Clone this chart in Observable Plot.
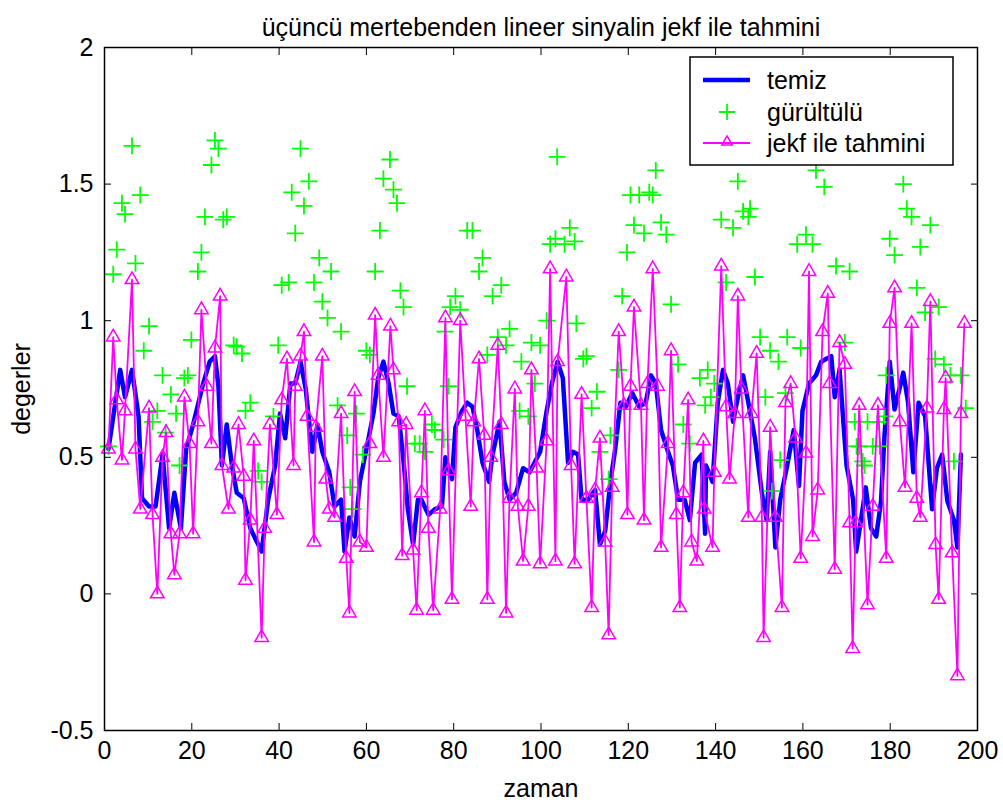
<!DOCTYPE html>
<html>
<head>
<meta charset="utf-8">
<script src="https://cdn.jsdelivr.net/npm/d3@7"></script>
<script src="https://cdn.jsdelivr.net/npm/@observablehq/plot@0.6"></script>
<style>
  html, body { margin: 0; padding: 0; background: #ffffff; overflow: hidden; }
  #chart { position: relative; width: 1003px; height: 805px; }
</style>
</head>
<body>
<div id="chart"></div>
<script>
// ---- texts ----
const titleText = "üçüncü mertebenden lineer sinyalin jekf ile tahmini";
const xLabel = "zaman";
const yLabel = "degerler";
const seriesNames = ["temiz", "gürültülü", "jekf ile tahmini"];
const seriesColors = ["#0000ff", "#00ff00", "#ff00ff"];

// ---- axis ticks ----
const xTicks = [0, 20, 40, 60, 80, 100, 120, 140, 160, 180, 200];
const yTicks = [-0.5, 0, 0.5, 1, 1.5, 2];

// ---- temiz (clean signal) ----
const cleanT = [0.9,3.6,4.7,6.3,7.8,8.6,10.2,11.7,13.3,14.8,16.0,17.5,18.7,20.3,22.6,24.1,25.3,26.1,26.9,28.0,29.2,30.3,31.9,33.4,
  36.0,37.5,39.1,40.2,41.4,42.6,43.7,44.9,46.1,47.6,48.8,49.9,51.5,52.7,54.2,55.0,56.1,57.3,58.5,60.0,61.6,62.7,63.9,65.1,66.2,67.4,68.6,
  69.5,70.7,71.8,72.6,74.2,75.7,77.3,78.1,79.6,80.4,81.9,83.1,84.3,85.4,86.6,88.1,88.9,90.5,91.6,92.8,94.3,95.9,97.4,99.8,101.3,102.5,
  103.8,105.0,106.2,107.3,108.5,109.3,110.8,112.4,113.5,114.7,115.9,117.0,118.2,119.4,120.9,122.5,124.0,125.2,126.3,127.5,129.1,130.2,131.4,132.9,134.1,135.3,136.8,137.6,
  137.8,139.3,140.5,141.7,142.8,144.0,145.1,146.3,147.5,149.0,150.6,151.7,152.5,153.7,154.8,156.4,157.9,159.1,159.9,161.4,163.0,164.2,165.3,166.5,167.3,168.4,170.0,171.5,172.2,
  173.3,174.4,175.6,176.8,177.9,178.7,179.9,181.0,182.2,183.0,184.1,185.3,186.5,188.0,189.6,190.7,191.9,193.1,194.6,195.4,196.2];
const cleanV = [0.53,0.82,0.72,0.82,0.65,0.35,0.32,0.32,0.51,0.24,0.37,0.24,0.53,0.62,0.77,0.85,0.87,0.76,0.47,0.62,0.47,0.37,0.35,0.24,
  0.155,0.345,0.47,0.66,0.57,0.77,0.77,0.85,0.75,0.52,0.62,0.52,0.445,0.32,0.345,0.155,0.28,0.21,0.41,0.53,0.66,0.79,0.85,0.77,0.66,0.65,0.47,
  0.31,0.18,0.345,0.345,0.29,0.31,0.32,0.5,0.42,0.61,0.67,0.70,0.685,0.60,0.48,0.41,0.51,0.63,0.41,0.345,0.37,0.46,0.445,0.52,0.67,0.77,
  0.85,0.79,0.48,0.52,0.51,0.345,0.345,0.38,0.18,0.23,0.41,0.53,0.70,0.685,0.735,0.685,0.70,0.80,0.77,0.60,0.52,0.47,0.345,0.345,0.27,0.48,0.51,0.22,
  0.47,0.41,0.70,0.82,0.77,0.63,0.72,0.80,0.70,0.57,0.37,0.27,0.52,0.17,0.345,0.47,0.60,0.395,0.67,0.77,0.80,0.85,0.86,0.87,0.72,0.82,0.47,0.345,0.155,
  0.27,0.39,0.24,0.21,0.34,0.58,0.85,0.675,0.756,0.81,0.70,0.445,0.70,0.65,0.31,0.46,0.51,0.34,0.27,0.17,0.51];

const noisyT = [0.9,2.0,2.8,4.0,4.7,6.3,7.1,8.2,9.0,10.2,11.0,12.1,13.3,14.0,15.2,16.4,17.2,18.3,19.1,19.9,21.4,22.2,23.0,24.5,25.3,26.1,27.2,28.0,29.6,30.3,31.5,32.3,33.4,
  35.2,36.0,38.7,39.8,40.6,42.2,42.9,43.7,44.9,45.7,46.8,48.0,49.2,49.9,51.1,51.9,53.4,54.2,55.6,56.3,56.9,57.7,59.2,60.0,60.8,62.0,63.1,63.9,65.4,66.2,67.0,67.8,68.5,69.3,
  71.1,72.2,73.4,75.0,75.7,77.7,78.0,78.8,79.2,80.4,81.5,83.1,84.3,85.8,86.6,87.7,88.9,90.1,90.9,92.0,92.8,95.1,95.5,97.1,97.8,98.6,99.8,101.3,102.1,103.3,103.7,
  105.4,106.6,107.7,108.1,109.7,110.4,111.6,112.8,113.5,115.5,115.9,117.8,118.6,119.7,120.5,121.3,122.5,123.6,124.8,125.6,126.3,127.5,128.7,129.8,131.4,132.6,134.1,136.4,137.6,
  138.2,138.9,139.7,141.3,142.4,144.0,145.1,146.3,147.5,147.9,149.0,150.2,151.4,152.5,152.9,154.4,154.8,156.0,156.4,158.7,159.5,160.7,162.2,163.0,164.9,167.6,169.6,170.7,171.9,172.3,
  172.9,173.7,174.1,174.8,176.0,177.2,177.6,178.7,179.1,179.9,181.0,183.0,183.8,184.9,186.1,186.9,188.0,189.2,190.3,191.1,192.3,193.8,194.6,196.2,197.3];
const noisyV = [0.54,1.17,1.26,1.43,1.39,1.64,1.21,1.46,0.89,0.98,0.63,0.67,0.80,0.59,0.73,0.66,0.47,0.79,0.80,0.93,1.18,1.25,1.38,1.57,1.66,1.63,1.37,1.38,0.91,0.905,0.88,0.67,0.70,
  0.45,0.41,0.65,0.91,1.13,1.14,1.47,1.32,1.63,1.42,1.51,1.14,1.23,1.07,1.01,1.18,0.69,0.96,0.58,0.39,0.31,0.66,0.51,0.89,0.875,1.18,1.33,1.52,1.59,1.48,1.43,1.11,1.05,0.76,
  0.55,0.55,0.52,0.62,0.60,0.565,0.96,0.76,1.05,1.09,1.04,1.33,1.33,1.18,1.23,0.875,1.09,0.94,1.13,0.91,0.97,0.67,0.85,0.65,0.92,0.77,0.91,1.0,1.28,1.30,1.60,
  1.28,1.34,1.29,0.99,0.86,0.87,0.68,0.74,0.52,0.42,0.58,0.82,1.09,1.25,1.46,1.35,1.46,1.32,1.47,1.46,1.55,1.36,1.315,1.06,0.84,0.62,0.55,0.79,0.69,
  0.82,0.72,0.77,1.37,1.14,1.34,1.51,1.40,1.38,1.41,1.16,0.94,0.72,0.89,0.376,0.85,0.49,0.735,0.94,1.28,0.90,1.315,1.28,1.55,1.49,1.20,0.92,1.18,0.63,0.54,
  0.54,0.485,0.47,0.63,0.54,0.63,0.54,0.65,0.80,1.30,1.24,1.50,1.41,1.38,1.12,1.27,1.03,1.35,0.86,1.05,0.84,0.80,0.485,0.80,0.68];

// ---- jekf ile tahmini (estimate) ----
const estT = [0.9,2.0,2.8,4.0,4.7,6.3,7.1,8.2,10.2,11.0,12.1,13.3,14.1,15.2,16.0,17.2,18.3,19.5,20.3,21.4,22.2,23.4,24.5,25.3,26.5,26.9,28.4,29.6,30.7,31.9,32.3,33.4,34.2,
  36.0,36.7,37.9,39.5,40.6,41.8,43.3,43.7,44.9,45.7,46.4,48.0,48.4,49.9,50.7,51.5,52.7,54.2,55.4,56.1,57.3,58.5,60.0,60.8,62.0,62.7,63.9,65.5,66.2,67.4,68.2,
  69.1,70.7,71.5,72.6,73.4,74.2,75.3,76.9,78.1,78.8,79.6,81.5,82.7,83.9,84.6,85.8,87.0,87.7,88.5,90.1,90.9,92.0,92.8,94.0,94.7,95.9,97.1,97.8,99.0,99.8,101.3,102.1,103.3,
  103.8,105.8,106.9,107.7,109.3,110.4,111.6,112.4,113.5,114.7,115.5,116.3,117.8,119.0,119.8,120.5,121.3,122.9,123.6,124.4,125.6,126.7,127.5,129.1,129.8,131.0,131.8,132.6,133.7,134.5,135.7,137.2,
  137.4,139.3,139.7,141.3,142.4,143.2,144.4,145.1,145.9,147.5,148.2,149.4,150.6,151.0,152.5,153.7,155.2,156.0,157.2,158.3,159.5,160.7,161.4,162.2,163.4,164.5,165.7,166.1,167.3,168.4,169.6,170.7,171.4,
  172.1,172.9,174.8,176.0,177.2,179.1,179.9,181.0,182.2,183.4,184.9,186.1,186.9,188.4,189.2,190.4,191.1,192.3,192.7,194.2,195.4,196.2,197.0];
const estV = [0.53,0.94,0.71,0.49,0.67,1.15,0.53,0.31,0.68,0.29,0.0,0.50,0.59,0.22,0.07,0.22,0.72,0.55,0.22,0.63,1.04,0.76,0.55,0.90,1.09,0.47,0.31,0.46,0.62,0.43,0.05,0.27,0.56,
  -0.16,0.24,0.62,0.29,0.71,0.86,0.47,0.76,0.87,0.96,0.65,0.19,0.61,0.87,0.42,0.31,0.28,0.66,0.13,-0.07,0.74,0.19,0.17,0.55,1.02,0.80,0.50,0.98,0.82,0.63,0.14,
  0.62,0.16,-0.06,0.37,0.67,0.24,-0.06,0.31,1.01,0.45,-0.02,1.0,0.65,0.32,0.63,0.86,0.58,-0.02,0.5,0.91,0.62,-0.07,0.35,0.75,0.32,0.12,0.32,0.82,0.46,0.11,0.56,1.19,0.12,
  0.85,1.16,0.47,0.11,0.73,0.35,-0.05,0.38,0.57,0.19,-0.15,0.39,0.96,0.69,0.29,0.76,1.05,0.69,0.27,0.77,1.19,0.76,0.17,0.55,0.89,0.29,-0.05,0.37,0.71,0.19,0.12,0.56,
  0.31,0.17,0.445,1.2,0.685,0.42,0.66,1.09,0.75,0.28,0.66,0.88,0.28,-0.16,0.61,0.28,-0.05,0.70,0.77,0.57,0.13,0.515,1.18,0.21,0.38,0.96,1.10,0.77,0.09,0.92,0.84,0.26,-0.2,
  0.26,0.69,-0.04,0.32,0.69,0.13,0.99,1.12,0.63,0.39,0.99,0.35,0.28,0.68,1.07,0.18,-0.02,0.675,0.79,0.15,-0.30,0.66,0.99];

// ---- build tables ----
const clean = cleanT.map((t, i) => ({t, v: cleanV[i]}));
const noisy = noisyT.map((t, i) => ({t, v: noisyV[i]}));
const est = estT.map((t, i) => ({t, v: estV[i]}));

const FONT = "'Liberation Sans', Arial, sans-serif";

const chart = Plot.plot({
  width: 1003,
  height: 805,
  marginLeft: 104,
  marginRight: 26,
  marginTop: 47,
  marginBottom: 75,
  style: {fontFamily: FONT, fontSize: "25px", background: "#ffffff", color: "#000000", overflow: "visible"},
  x: {domain: [0, 200]},
  y: {domain: [-0.5, 2]},
  marks: [
    Plot.line(clean, {x: "t", y: "v", stroke: seriesColors[0], strokeWidth: 4.5}),
    Plot.dot(noisy, {x: "t", y: "v", symbol: "plus", stroke: seriesColors[1], r: 5.5, strokeWidth: 1.8}),
    Plot.line(est, {x: "t", y: "v", stroke: seriesColors[2], strokeWidth: 1.8}),
    Plot.dot(est, {x: "t", y: "v", symbol: "triangle", stroke: seriesColors[2], fill: "none", r: 5, strokeWidth: 1.5}),
    Plot.frame({stroke: "#000000", strokeWidth: 1.5}),
    Plot.axisX({anchor: "bottom", ticks: xTicks, tickSize: -7, tickPadding: 18, tickFormat: d => String(d),
      label: xLabel, labelAnchor: "center", labelArrow: "none", labelOffset: 66, fontSize: 25}),
    Plot.axisX({anchor: "top", ticks: xTicks, tickSize: -7, tickFormat: () => "", label: null}),
    Plot.axisY({anchor: "left", ticks: yTicks, tickSize: -7, tickPadding: 18, tickFormat: d => String(d),
      label: yLabel, labelAnchor: "center", labelArrow: "none", labelOffset: 92, fontSize: 25}),
    Plot.axisY({anchor: "right", ticks: yTicks, tickSize: -7, tickFormat: () => "", label: null}),
    Plot.text([titleText], {frameAnchor: "top", dy: -29, fontSize: 25, fill: "#000000"})
  ]
});

document.getElementById("chart").appendChild(chart);

// ---- legend (inside the axes, top right) ----
const svg = d3.select(chart);
const lg = svg.append("g").attr("font-family", FONT).attr("font-size", 25).attr("text-anchor", "start");
const box = {x: 690, y: 57, w: 263, h: 108};
lg.append("rect").attr("x", box.x).attr("y", box.y).attr("width", box.w).attr("height", box.h)
  .attr("fill", "#ffffff").attr("stroke", "#000000").attr("stroke-width", 1.5);
const rowY = [80, 112, 143];
const sx1 = 703, sx2 = 750, sxm = 727, tx = 767;
// temiz
lg.append("line").attr("x1", sx1).attr("x2", sx2).attr("y1", rowY[0]).attr("y2", rowY[0])
  .attr("stroke", seriesColors[0]).attr("stroke-width", 4.5);
// gürültülü
lg.append("path").attr("d", `M${sxm - 8},${rowY[1]}h16M${sxm},${rowY[1] - 8}v16`)
  .attr("stroke", seriesColors[1]).attr("stroke-width", 1.8).attr("fill", "none");
// jekf ile tahmini
lg.append("line").attr("x1", sx1).attr("x2", sx2).attr("y1", rowY[2]).attr("y2", rowY[2])
  .attr("stroke", seriesColors[2]).attr("stroke-width", 1.8);
lg.append("path").attr("d", d3.symbol(d3.symbolTriangle2, 78)())
  .attr("transform", `translate(${sxm},${rowY[2] - 1})`)
  .attr("stroke", seriesColors[2]).attr("stroke-width", 1.5).attr("fill", "none");
seriesNames.forEach((name, i) => {
  lg.append("text").attr("x", tx).attr("y", rowY[i]).attr("dy", "0.35em")
    .attr("text-anchor", "start").attr("fill", "#000000").text(name);
});
</script>
</body>
</html>
